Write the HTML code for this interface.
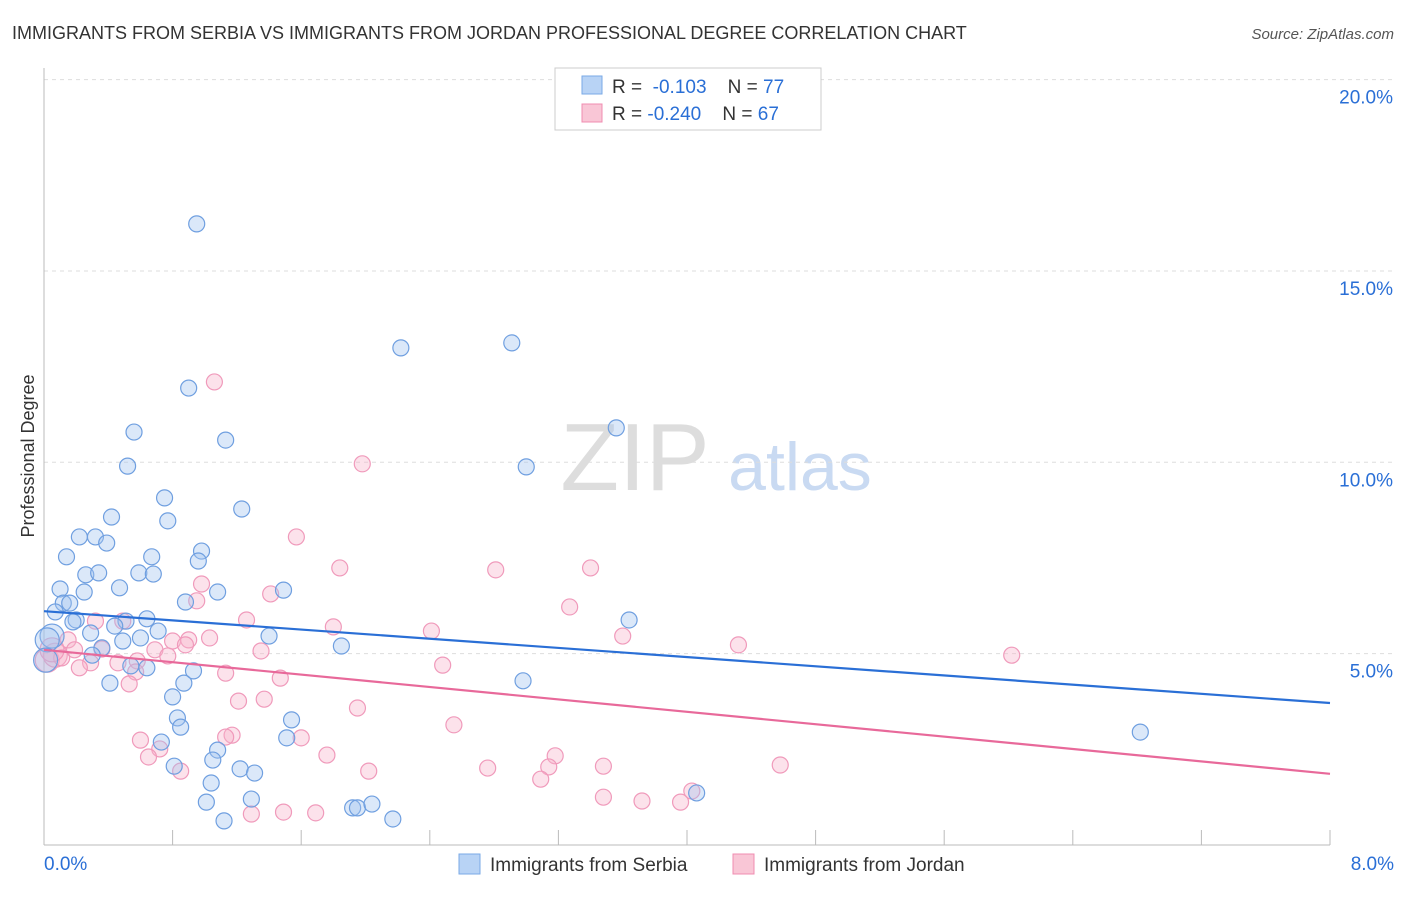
<!DOCTYPE html>
<html><head><meta charset="utf-8"><style>
body{margin:0;background:#fff;font-family:"Liberation Sans",sans-serif;}
svg text{font-family:"Liberation Sans",sans-serif;}
</style></head><body>
<svg id="chart" width="1406" height="892">
<text x="12" y="39" font-size="18" fill="#333">IMMIGRANTS FROM SERBIA VS IMMIGRANTS FROM JORDAN PROFESSIONAL DEGREE CORRELATION CHART</text>
<text x="1394" y="39" font-size="15" fill="#555" font-style="italic" text-anchor="end">Source: ZipAtlas.com</text>
<text x="34" y="456" font-size="18" fill="#333" transform="rotate(-90 34 456)" text-anchor="middle">Professional Degree</text>
<text x="635" y="490" font-size="96" fill="#ddd" font-family="Liberation Serif" text-anchor="middle">ZIP</text>
<text x="800" y="490" font-size="68" fill="#c9daf2" text-anchor="middle">atlas</text>
<g id="grid"></g><g id="pts"></g><g id="trend"></g>
<g>
<rect x="555" y="68" width="266" height="62" fill="#fff" stroke="#ccc"/>
<rect x="582" y="76" width="20" height="18" fill="#b8d3f5" stroke="#7aaae6"/>
<rect x="582" y="104" width="20" height="18" fill="#f9c6d6" stroke="#f08cb0"/>
<text x="612" y="93" font-size="19" fill="#333">R = <tspan fill="#2a6fd6">&#160;-0.103</tspan>&#160;&#160;&#160;&#160;N = <tspan fill="#2a6fd6">77</tspan></text>
<text x="612" y="120" font-size="19" fill="#333">R = <tspan fill="#2a6fd6">-0.240</tspan>&#160;&#160;&#160;&#160;N = <tspan fill="#2a6fd6">67</tspan></text>
</g>
<g>
<rect x="459" y="854" width="21" height="20" fill="#b8d3f5" stroke="#7aaae6"/>
<text x="490" y="871" font-size="19" fill="#333">Immigrants from Serbia</text>
<rect x="733" y="854" width="21" height="20" fill="#f9c6d6" stroke="#f08cb0"/>
<text x="764" y="871" font-size="19" fill="#333">Immigrants from Jordan</text>
</g>
</svg>
<script>
const yTicks=[5,10,15,20];
const xTickLabels=["0.0%","8.0%"];
const serbiaX=[0.95,2.22,2.91,0.90,0.56,1.13,3.56,0.52,3.00,0.75,0.77,1.23,0.42,0.22,0.32,0.39,0.14,0.67,0.98,0.96,0.26,0.34,0.59,0.68,0.10,0.25,0.47,1.49,1.08,0.88,0.12,0.16,0.07,0.20,0.18,0.51,0.44,0.64,3.64,0.29,0.71,0.60,1.40,0.49,0.05,1.85,0.36,0.30,0.54,0.64,0.93,0.41,0.87,2.98,0.80,0.83,0.85,1.54,0.73,1.51,1.08,1.05,0.81,1.22,1.31,1.04,6.82,1.29,1.01,1.92,1.95,2.04,4.06,1.12,2.17,0.02,0.01];
const serbiaY=[16.23,12.99,13.12,11.94,10.79,10.58,10.90,9.90,9.88,9.07,8.47,8.78,8.57,8.05,8.05,7.89,7.53,7.53,7.68,7.42,7.06,7.11,7.11,7.08,6.69,6.61,6.72,6.66,6.61,6.35,6.32,6.32,6.09,5.88,5.83,5.85,5.72,5.91,5.88,5.54,5.59,5.41,5.46,5.33,5.46,5.20,5.15,4.96,4.68,4.63,4.55,4.23,4.23,4.29,3.87,3.32,3.08,3.27,2.69,2.80,2.48,2.22,2.06,1.99,1.88,1.62,2.95,1.20,1.12,0.97,0.97,1.07,1.36,0.63,0.68,5.36,4.83];
const jordanX=[1.06,1.98,1.57,1.84,2.81,3.40,3.27,0.98,0.95,1.41,1.26,0.32,0.49,1.80,2.41,3.60,4.32,6.02,0.15,0.80,0.90,1.03,0.88,0.69,1.35,0.36,0.46,0.58,0.29,0.22,2.48,0.77,1.13,1.47,0.57,0.53,1.21,1.37,1.95,2.55,0.60,1.17,1.13,1.60,0.72,0.65,1.76,3.18,3.14,3.48,2.76,3.09,4.58,2.02,0.85,3.48,3.72,3.96,4.03,1.29,1.49,1.69,0.02,0.07,0.11,0.19,0.05];
const jordanY=[12.10,9.96,8.05,7.24,7.19,7.24,6.22,6.82,6.38,6.56,5.88,5.85,5.85,5.70,5.59,5.46,5.23,4.96,5.36,5.33,5.36,5.41,5.23,5.10,5.07,5.12,4.76,4.81,4.76,4.63,4.70,4.94,4.49,4.36,4.52,4.21,3.76,3.81,3.58,3.14,2.74,2.87,2.82,2.80,2.51,2.30,2.35,2.33,2.04,2.06,2.01,1.72,2.09,1.93,1.93,1.25,1.15,1.12,1.41,0.81,0.86,0.84,4.83,4.96,4.89,5.10,5.10];
const serbiaTrend=[6.11,3.71];
const jordanTrend=[5.10,1.86];
const NS="http://www.w3.org/2000/svg";
const X=v=>44+v*160.75, Y=v=>845-v*38.27;
function mk(p,tag,a){const e=document.createElementNS(NS,tag);for(const k in a)e.setAttribute(k,a[k]);p.appendChild(e);return e;}
const g=document.getElementById('grid');
yTicks.forEach(t=>{
  const l=mk(g,'line',{x1:44,x2:1394,y1:Y(t),y2:Y(t),stroke:'#ddd','stroke-dasharray':'4,4'});
  
  
  const tx=mk(g,'text',{x:1393,y:Y(t)+24,'font-size':19,fill:'#2a6fd6','text-anchor':'end'});
  tx.textContent=t.toFixed(1)+'%';
  
  
});
const ax=mk(g,'line',{x1:44,x2:44,y1:68,y2:845,stroke:'#bbb'});


const bx=mk(g,'line',{x1:44,x2:1330,y1:845,y2:845,stroke:'#bbb'});


for(let i=0;i<=10;i++){const v=i*0.8;
  const t=mk(g,'line',{x1:X(v),x2:X(v),y1:830,y2:845,stroke:'#bbb'});
  
  }
[[0,'start',44],[8,'end',1394]].forEach((d,i)=>{
  const tx=mk(g,'text',{x:d[2],y:870,'font-size':19,fill:'#2a6fd6','text-anchor':d[1]});
  tx.textContent=xTickLabels[i];
  
  });
const P=document.getElementById('pts');
function pts(xs,ys,fill,stroke,name){xs.forEach((x,i)=>{
  const big=x<0.1&&ys[i]>4.5&&ys[i]<5.6;
  const c=mk(P,'circle',{cx:X(x),cy:Y(ys[i]),r:big?12:8,fill:fill,stroke:stroke,'stroke-width':1.2});
  
  });}
pts(jordanX,jordanY,'rgba(246,178,202,0.38)','#f09abb','point-jordan');
pts(serbiaX,serbiaY,'rgba(160,195,240,0.38)','#6f9fe0','point-serbia');
const T=document.getElementById('trend');
const l1=mk(T,'line',{x1:X(0),x2:X(8),y1:Y(serbiaTrend[0]),y2:Y(serbiaTrend[1]),stroke:'#2a6fd6','stroke-width':2.2});


const l2=mk(T,'line',{x1:X(0),x2:X(8),y1:Y(jordanTrend[0]),y2:Y(jordanTrend[1]),stroke:'#e8699a','stroke-width':2.2});


</script>
</body></html>
